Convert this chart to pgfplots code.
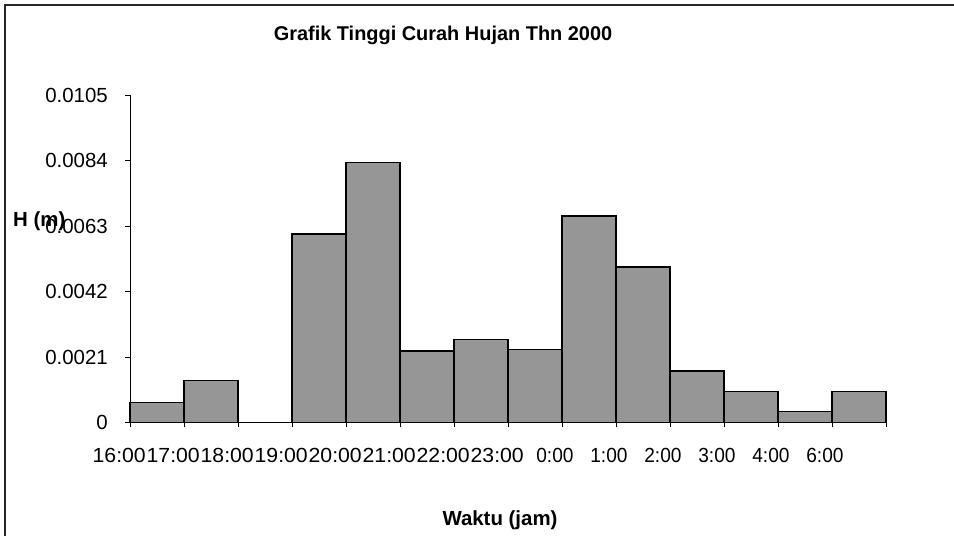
\documentclass[border=0pt]{standalone}
\usepackage{pgfplots}
\pgfplotsset{compat=1.18}
\usepackage{graphicx}
\usepackage{fontspec}
\setmainfont{Liberation Sans}
\definecolor{bargray}{RGB}{150,150,150}
\newcommand\wl[1]{\llap{\scalebox{1.04}[1]{#1}\hspace*{-4.3bp}}}
\newcommand\nl[1]{\llap{\scalebox{0.935}[1]{#1}}}
\begin{document}
\begin{tikzpicture}
\path[use as bounding box] (0,0) rectangle (954bp,536bp);
\draw[line width=1.2bp, black!85] (5bp,0) -- (5bp,531bp) -- (954bp,531bp);
\begin{axis}[
  at={(130bp,113.5bp)}, anchor=south west,
  scale only axis, width=756bp, height=327.5bp,
  xmin=0, xmax=14, ymin=0, ymax=0.0105,
  axis x line*=bottom, axis y line*=left,
  axis line style={line width=0.8bp, black, -},
  tick style={line width=0.8bp, black},
  tick align=outside, major tick length=5bp,
  xtick={0,1,...,14},
  xticklabels={\wl{16:00},\wl{17:00},\wl{18:00},\wl{19:00},\wl{20:00},\wl{21:00},\wl{22:00},\wl{23:00},\nl{0:00},\nl{1:00},\nl{2:00},\nl{3:00},\nl{4:00},\nl{6:00},},
  ytick={0,0.0021,0.0042,0.0063,0.0084,0.0105},
  yticklabels={0,0.0021,0.0042,0.0063,0.0084,0.0105},
  scaled y ticks=false,
  xticklabel style={inner sep=0pt, xshift=11.5bp, yshift=-21bp, font=\fontsize{20.5}{24}\selectfont},
  yticklabel style={anchor=east, inner sep=0pt, xshift=-17bp, font=\fontsize{20.5}{24}\selectfont},
  clip=false,
]
\addplot[ybar interval, fill=bargray, draw=black, line width=1.3bp] coordinates {
  (0,0.00065) (1,0.00135) (2,0) (3,0.00604) (4,0.00833) (5,0.00229)
  (6,0.00265) (7,0.00235) (8,0.00662) (9,0.00499) (10,0.00165)
  (11,0.00100) (12,0.00035) (13,0.00100) (14,0)
};
\end{axis}
\node[anchor=base, inner sep=0pt, font=\bfseries\fontsize{20}{24}\selectfont] at (443bp,495bp) {Grafik Tinggi Curah Hujan Thn 2000};
\node[anchor=base west, inner sep=0pt, font=\bfseries\fontsize{20.5}{24}\selectfont] at (13bp,309bp) {H (m)};
\node[anchor=base, inner sep=0pt, font=\bfseries\fontsize{20.5}{24}\selectfont] at (500bp,11bp) {Waktu (jam)};
\end{tikzpicture}
\end{document}
